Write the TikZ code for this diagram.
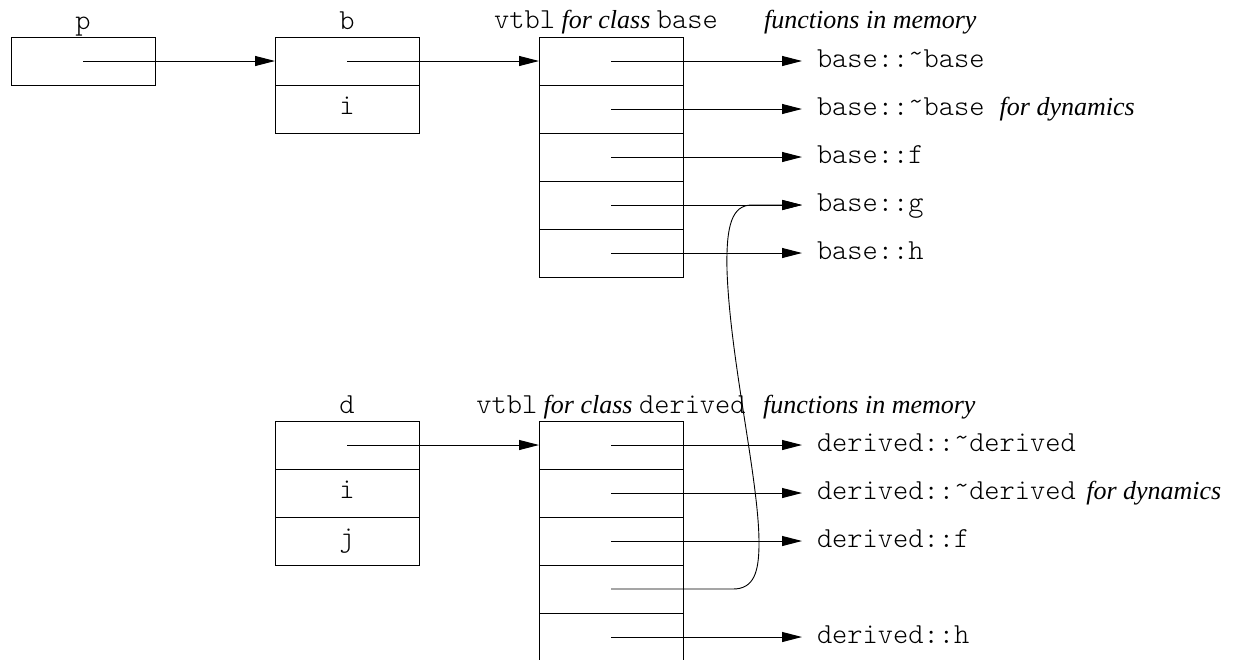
\documentclass[tikz,border=0pt]{standalone}
\usepackage{fontspec}
\setmainfont{Liberation Serif}
\setmonofont{Latin Modern Mono Light}
\usetikzlibrary{arrows.meta}
\newcommand\diagfont{\fontsize{26}{30}\selectfont}
\newcommand\mtt[1]{{\fontsize{29}{32}\selectfont\ttfamily #1}}
\newcommand\tld{\raisebox{5pt}{\textasciitilde}}
\begin{document}
\begin{tikzpicture}[x=1pt,y=-1pt,
  font=\diagfont,
  cell/.style={draw, line width=1pt, minimum width=144pt, minimum height=48pt,
    inner sep=0pt, outer sep=0pt, text height=10pt, text depth=0pt},
  title/.style={anchor=base, inner sep=0pt},
  fname/.style={anchor=base west, inner xsep=15pt, inner ysep=0pt, outer sep=0pt},
  ptr/.style={line width=1pt, -{Triangle[length=20pt,width=10pt]}},
  redirect/.style={line width=0.9pt, -{Triangle[length=20pt,width=10pt]}}]
\useasboundingbox (0,0) rectangle (1260,659);

% pointer p and object b
\node[title] (plbl) at (83,29) {\mtt{p}};
\node[cell] (p) at (83,61) {};
\node[title] (blbl) at (347,29) {\mtt{b}};
\node[cell] (b1) at (347,61) {};
\node[cell] (b2) at (347,109) {\mtt{i}};

% vtbl of class base
\node[title] (vbhead) at (606,28) {\mtt{vtbl}\textit{ for class }\mtt{base}};
\node[anchor=base west, inner sep=0pt] (vbmem) at (764,28) {\textit{functions in memory}};
\foreach \k in {1,...,5} {
  \node[cell] (v\k) at (611,{13+48*\k}) {};
}

% functions of class base
\node[fname] (fb1) at (802,67) {\mtt{base::\tld base}};
\node[fname] (fb2) at (802,115) {\mtt{base::\tld base }\textit{for dynamics}};
\node[fname] (fb3) at (802,163) {\mtt{base::f}};
\node[fname] (fb4) at (802,211) {\mtt{base::g}};
\node[fname] (fb5) at (802,259) {\mtt{base::h}};

% object d
\node[title] (dlbl) at (347,413) {\mtt{d}};
\node[cell] (d1) at (347,445) {};
\node[cell] (d2) at (347,493) {\mtt{i}};
\node[cell] (d3) at (347,541) {\mtt{j}};

% vtbl of class derived (continues below)
\node[title] (vdhead) at (611,413) {\mtt{vtbl}\textit{ for class }\mtt{derived}};
\node[anchor=base west, inner sep=0pt] (vdmem) at (763,413) {\textit{functions in memory}};
\foreach \k in {1,...,4} {
  \node[cell] (w\k) at (611,{397+48*\k}) {};
}
\node[cell, draw=none] (w5) at (611,637) {};
\draw[line width=1pt] (w5.south west) -- (w5.north west) -- (w5.north east) -- (w5.south east);

% functions of class derived
\node[fname] (fd1) at (802,451) {\mtt{derived::\tld derived}};
\node[fname] (fd2) at (802,499) {\mtt{derived::\tld derived}\hspace{4pt}\textit{ for dynamics}};
\node[fname] (fd3) at (802,547) {\mtt{derived::f}};
\node[fname] (fd5) at (802,643) {\mtt{derived::h}};

% pointers
\draw[ptr] (p.center) -- (b1.west);
\draw[ptr] (b1.center) -- (v1.west);
\draw[ptr] (d1.center) -- (w1.west);
\foreach \k in {1,...,5} {
  \draw[ptr] (v\k.center) -- (v\k.center -| fb\k.west);
}
\foreach \k in {1,2,3,5} {
  \draw[ptr] (w\k.center) -- (w\k.center -| fd\k.west);
}

% inherited entry g points back to base::g
\draw[redirect] (w4.center) -- (733,589)
  .. controls (754,589) and (759,572) .. (759,543)
  .. controls (759,480) and (730,360) .. (727,270)
  .. controls (726,225) and (732,205) .. (752,205)
  -- (v4.center -| fb4.west);
\end{tikzpicture}
\end{document}
